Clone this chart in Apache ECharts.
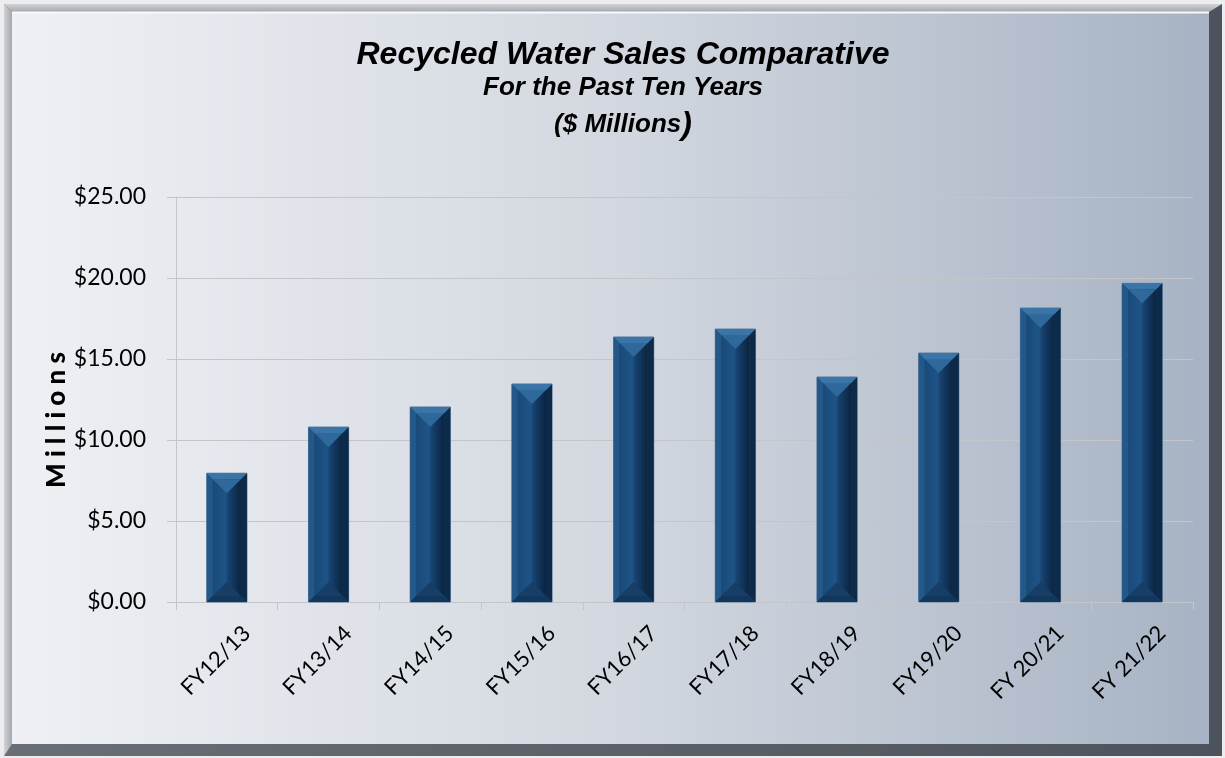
<!DOCTYPE html>
<html>
<head>
<meta charset="utf-8">
<title>Recycled Water Sales Comparative</title>
<script src="https://cdn.jsdelivr.net/npm/echarts@6/dist/echarts.min.js"></script>
<style>
  html, body { margin: 0; padding: 0; background: #ffffff; }
  #chart { width: 1225px; height: 758px; }
</style>
</head>
<body>
<div id="chart"></div>
<script>
// Fiscal years shown along the bottom
const fiscalYears = ['FY12/13', 'FY13/14', 'FY14/15', 'FY15/16', 'FY16/17',
                     'FY17/18', 'FY18/19', 'FY19/20', 'FY 20/21', 'FY 21/22'];
// Recycled water sales, $ millions
const salesMillions = [7.95, 10.80, 12.04, 13.46, 16.36, 16.85, 13.89, 15.37, 18.15, 19.67];
// Value axis ticks
const yTicks = [0, 5, 10, 15, 20, 25];

const titleLines = ['Recycled Water Sales Comparative', 'For the Past Ten Years', '($ Millions'];

const chart = echarts.init(document.getElementById('chart'), null, { renderer: 'canvas' });

// Beveled column: outer frame, four bevel faces, shaded front face, top/bottom chevrons
function renderBevelBar(params, api) {
  const top = api.coord([api.value(0), api.value(1)]);
  const base = api.coord([api.value(0), 0]);
  const w = api.size([1, 0])[0] * 0.395;
  const x = top[0] - w / 2;
  const y = top[1];
  const h = base[1] - top[1];
  const b = Math.min(6, h / 3);
  const cx = x + w / 2;
  const tip = Math.min(w / 2 - b, h / 2 - b);
  return {
    type: 'group',
    children: [
      { type: 'rect', shape: { x: x, y: y, width: w, height: h },
        style: { fill: '#1c4c7a', stroke: '#5d7ea1', lineWidth: 1 } },
      { type: 'polygon', shape: { points: [[x, y], [x + b, y + b], [x + b, y + h - b], [x, y + h]] },
        style: { fill: '#235888' } },
      { type: 'polygon', shape: { points: [[x + w, y], [x + w - b, y + b], [x + w - b, y + h - b], [x + w, y + h]] },
        style: { fill: '#0d2a48' } },
      { type: 'rect', shape: { x: x + b, y: y + b, width: w - 2 * b, height: h - 2 * b },
        style: { fill: new echarts.graphic.LinearGradient(0, 0, 1, 0, [
          { offset: 0, color: '#194a79' },
          { offset: 0.45, color: '#1e5486' },
          { offset: 0.55, color: '#174270' },
          { offset: 1, color: '#0b2440' }
        ]) } },
      { type: 'polygon', shape: { points: [[x, y], [x + w, y], [x + w - b, y + b], [x + b, y + b]] },
        style: { fill: '#3b75a8' } },
      { type: 'polygon', shape: { points: [[x + b, y + b], [x + w - b, y + b], [cx, y + b + tip]] },
        style: { fill: '#2f689b' } },
      { type: 'polygon', shape: { points: [[x, y + h], [x + w, y + h], [x + w - b, y + h - b], [x + b, y + h - b]] },
        style: { fill: '#12375c' } },
      { type: 'polygon', shape: { points: [[x + b, y + h - b], [x + w - b, y + h - b], [cx, y + h - b - tip]] },
        style: { fill: '#163e66' } }
    ]
  };
}

const option = {
  animation: false,
  backgroundColor: '#ededf0',
  graphic: [
    // dark lower/right edge of the frame
    { type: 'rect', z: -100, silent: true, shape: { x: 4, y: 4, width: 1218, height: 752 },
      style: { fill: new echarts.graphic.LinearGradient(0, 0, 1, 0, [
        { offset: 0, color: '#6a6e76' }, { offset: 1, color: '#4d535c' }]) } },
    // top bevel
    { type: 'polygon', z: -99, silent: true, shape: { points: [[4, 4], [1222, 4], [1209, 12], [12, 12]] },
      style: { fill: new echarts.graphic.LinearGradient(0, 0, 0, 1, [
        { offset: 0, color: '#d2d3d7' }, { offset: 1, color: '#a3a6ad' }]) } },
    // left bevel
    { type: 'polygon', z: -99, silent: true, shape: { points: [[4, 4], [12, 12], [12, 744], [4, 756]] },
      style: { fill: new echarts.graphic.LinearGradient(0, 0, 1, 0, [
        { offset: 0, color: '#d2d3d7' }, { offset: 1, color: '#a3a6ad' }]) } },
    // inner panel
    { type: 'rect', z: -98, silent: true, shape: { x: 12, y: 12, width: 1197, height: 732 },
      style: { fill: new echarts.graphic.LinearGradient(0, 0, 1, 0, [
        { offset: 0, color: '#eef0f4' },
        { offset: 0.5, color: '#d3d8e0' },
        { offset: 1, color: '#a7b3c4' }]) } },
    // highlight along the panel's top edge
    { type: 'line', z: -97, silent: true, shape: { x1: 12, y1: 12.5, x2: 1209, y2: 12.5 },
      style: { stroke: '#f8f9fb', lineWidth: 2 } },
    // value axis name
    { type: 'text', z: 10, silent: true, x: 57, y: 420, rotation: Math.PI / 2,
      style: { text: 'M i l l i o n s', fontFamily: 'Lato', fontWeight: 900, fontSize: 26,
               fill: '#000000', align: 'center', verticalAlign: 'middle' } }
  ],
  title: [
    { text: titleLines[0], left: 618, top: 34, textAlign: 'center',
      textStyle: { fontFamily: 'Liberation Sans', fontStyle: 'italic', fontWeight: 'bold', fontSize: 32, color: '#000' } },
    { text: titleLines[1], left: 618, top: 70, textAlign: 'center',
      textStyle: { fontFamily: 'Liberation Sans', fontStyle: 'italic', fontWeight: 'bold', fontSize: 26, color: '#000' } },
    { text: '{a|' + titleLines[2] + '}{b|)}', left: 618, top: 104, textAlign: 'center',
      textStyle: { rich: {
        a: { fontFamily: 'Liberation Sans', fontStyle: 'italic', fontWeight: 'bold', fontSize: 26, color: '#000' },
        b: { fontFamily: 'Liberation Sans', fontStyle: 'italic', fontWeight: 'bold', fontSize: 32, color: '#000' }
      } } }
  ],
  grid: { left: 176, right: 32, top: 197, bottom: 156, containLabel: false },
  xAxis: {
    type: 'category',
    data: fiscalYears,
    axisLine: { show: true, lineStyle: { color: '#c4c5c8', width: 1 } },
    axisTick: { show: true, alignWithLabel: false, length: 8, lineStyle: { color: '#c4c5c8' } },
    axisLabel: { rotate: 45, margin: 8, interval: 0, fontFamily: 'Lato', fontSize: 22, color: '#000',
                 verticalAlign: 'top', padding: [17, 0, 0, 0] }
  },
  yAxis: {
    type: 'value',
    min: yTicks[0],
    max: yTicks[yTicks.length - 1],
    interval: yTicks[1] - yTicks[0],
    axisLine: { show: true, lineStyle: { color: '#c4c5c8', width: 1 } },
    axisTick: { show: true, length: 9, lineStyle: { color: '#c4c5c8' } },
    splitLine: { show: true, lineStyle: { color: '#c4c5c8', width: 1 } },
    axisLabel: { margin: 30, fontFamily: 'Lato', fontSize: 23, color: '#000',
                 formatter: v => '$' + v.toFixed(2) }
  },
  series: [{
    type: 'custom',
    name: 'Recycled Water Sales',
    renderItem: renderBevelBar,
    encode: { x: 0, y: 1 },
    data: salesMillions.map((v, i) => [i, v]),
    z: 5
  }]
};

chart.setOption(option);
</script>
</body>
</html>
